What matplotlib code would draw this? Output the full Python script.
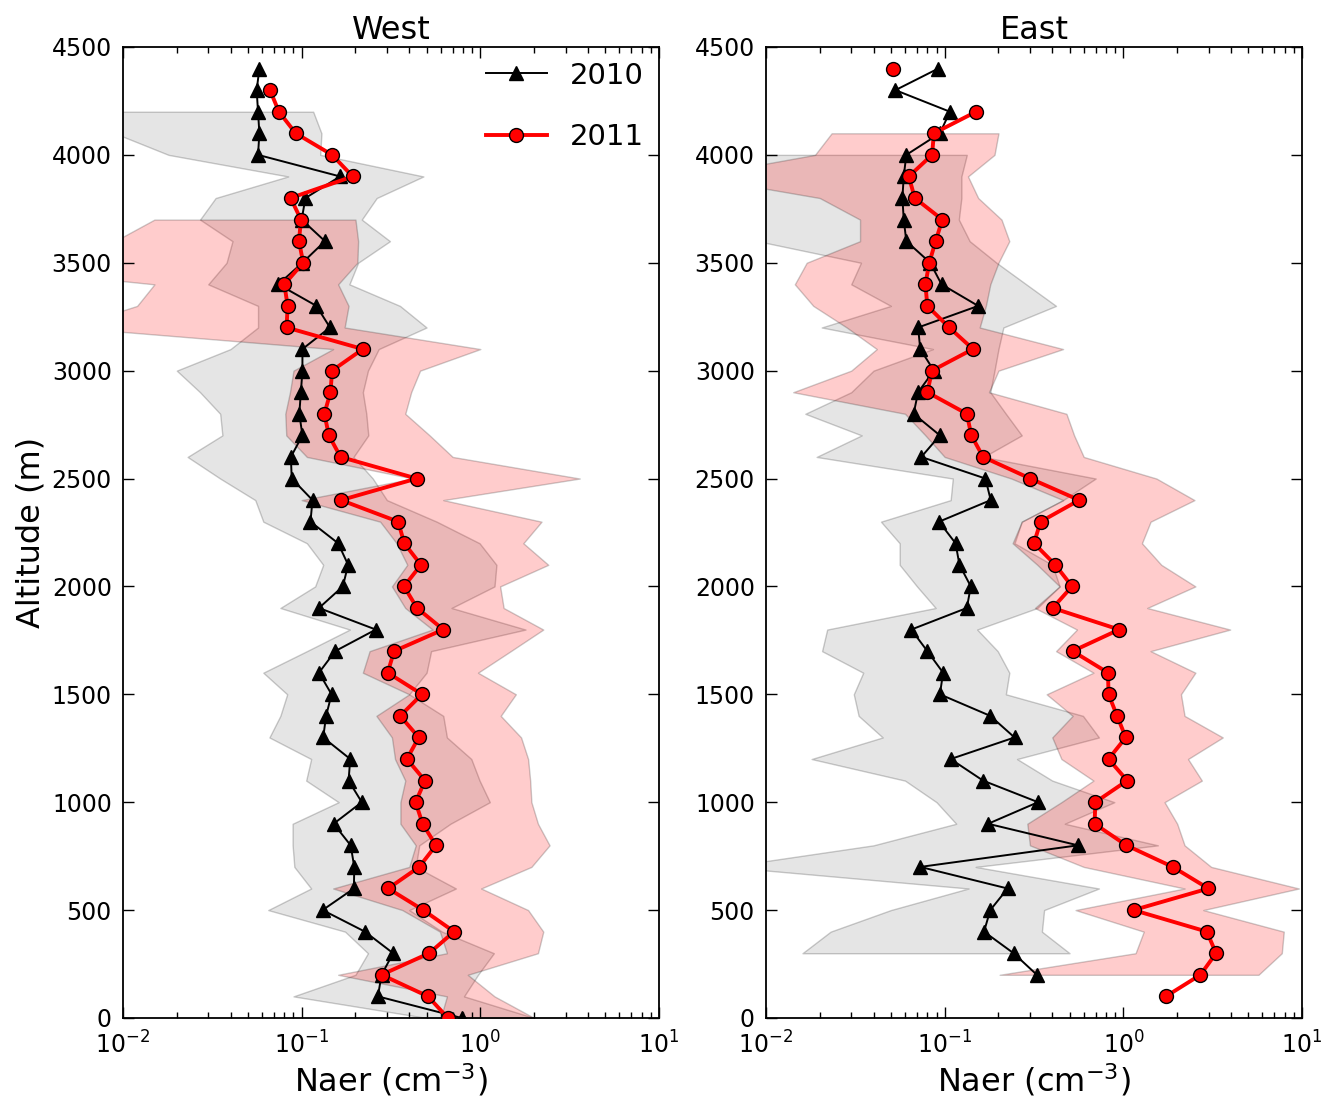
import numpy as np
import matplotlib
matplotlib.use('Agg')
import matplotlib.pyplot as plt

# altitude grid (m), top to bottom
alt = np.arange(4400, -100, -100)

# mean Naer profiles (cm-3), 4400 m down to 0 m
west_2010 = [0.058, 0.056, 0.057, 0.058, 0.057, 0.164, 0.105, 0.100, 0.135, 0.101,
             0.074, 0.121, 0.144, 0.101, 0.101, 0.099, 0.097, 0.101, 0.087, 0.088,
             0.115, 0.112, 0.160, 0.182, 0.170, 0.125, 0.260, 0.154, 0.125, 0.147,
             0.137, 0.132, 0.187, 0.183, 0.217, 0.151, 0.188, 0.197, 0.196, 0.131,
             0.226, 0.325, 0.280, 0.267, 0.785]
west_2011 = [np.nan, 0.0665, 0.0746, 0.0926, 0.148, 0.193, 0.0868, 0.0991, 0.0966, 0.102,
             0.080, 0.0835, 0.0823, 0.220, 0.148, 0.145, 0.134, 0.142, 0.165, 0.440,
             0.166, 0.347, 0.375, 0.465, 0.374, 0.442, 0.620, 0.329, 0.303, 0.471,
             0.356, 0.452, 0.388, 0.490, 0.434, 0.475, 0.564, 0.455, 0.305, 0.479,
             0.713, 0.517, 0.280, 0.509, 0.658]
east_2010 = [0.092, 0.053, 0.107, 0.094, 0.061, 0.059, 0.058, 0.059, 0.061, 0.083,
             0.096, 0.154, 0.071, 0.073, 0.087, 0.071, 0.067, 0.094, 0.074, 0.169,
             0.181, 0.093, 0.115, 0.121, 0.140, 0.133, 0.065, 0.080, 0.098, 0.094,
             0.180, 0.246, 0.108, 0.164, 0.333, 0.175, 0.557, 0.073, 0.225, 0.180,
             0.166, 0.243, 0.328, np.nan, np.nan]
east_2011 = [0.0516, np.nan, 0.150, 0.087, 0.085, 0.063, 0.068, 0.097, 0.089, 0.082,
             0.078, 0.080, 0.106, 0.144, 0.085, 0.080, 0.133, 0.141, 0.164, 0.301,
             0.566, 0.344, 0.316, 0.416, 0.516, 0.402, 0.947, 0.520, 0.820, 0.826,
             0.922, 1.031, 0.826, 1.050, 0.697, 0.690, 1.040, 1.890, 2.990, 1.140,
             2.930, 3.300, 2.700, 1.730, np.nan]

# spread envelopes (low / high edge)
west_2010_alt = np.arange(4200, -100, -100)
west_2010_lo = [0.005, 0.009, 0.018, 0.084, 0.033, 0.027, 0.041, 0.038, 0.030, 0.057,
                0.057, 0.040, 0.020, 0.027, 0.035, 0.036, 0.023, 0.035, 0.055, 0.061,
                0.107, 0.132, 0.119, 0.076, 0.186, 0.107, 0.061, 0.083, 0.076, 0.066,
                0.113, 0.106, 0.161, 0.089, 0.089, 0.091, 0.113, 0.065, 0.175, 0.235,
                0.200, 0.090, 0.500]
west_2010_hi = [0.116, 0.129, 0.127, 0.480, 0.263, 0.217, 0.312, 0.207, 0.185, 0.355,
                0.500, 0.270, 0.235, 0.220, 0.230, 0.236, 0.195, 0.250, 0.300, 0.570,
                0.990, 1.230, 1.200, 0.690, 1.790, 0.530, 0.500, 0.400, 0.620, 0.650,
                0.890, 0.990, 1.130, 0.680, 0.455, 0.435, 0.730, 0.400, 0.610, 1.190,
                0.970, 0.810, 2.000]

west_2011_alt = np.arange(3700, -100, -100)
west_2011_lo = [0.015, 0.009, 0.001, 0.015, 0.012, 0.005, 0.150, 0.090, 0.086, 0.081,
                0.082, 0.107, 0.420, 0.100, 0.275, 0.340, 0.390, 0.320, 0.380, 0.540,
                0.240, 0.220, 0.400, 0.262, 0.320, 0.333, 0.380, 0.357, 0.357, 0.435,
                0.400, 0.150, 0.366, 0.594, 0.650, 0.160, 0.650, 0.600]
west_2011_hi = [0.200, 0.207, 0.205, 0.160, 0.183, 0.174, 1.000, 0.460, 0.410, 0.380,
                0.520, 0.700, 3.600, 0.620, 2.200, 1.740, 2.400, 1.290, 1.350, 2.250,
                1.480, 0.970, 1.580, 1.300, 1.690, 1.850, 1.900, 1.930, 2.100, 2.440,
                1.930, 1.010, 1.850, 2.250, 2.100, 0.850, 1.200, 2.000]

east_2010_alt = np.arange(4000, 200, -100)
east_2010_lo = [0.004, 0.006, 0.005, 0.005, 0.009, 0.034, 0.030, 0.050, 0.0205, 0.086,
                0.040, 0.030, 0.0166, 0.0343, 0.0192, 0.111, 0.108, 0.044, 0.056, 0.056,
                0.070, 0.089, 0.022, 0.0206, 0.035, 0.031, 0.033, 0.045, 0.018, 0.060,
                0.090, 0.116, 0.040, 0.006, 0.136, 0.050, 0.023, 0.016]
east_2010_hi = [0.133, 0.124, 0.124, 0.120, 0.138, 0.195, 0.286, 0.420, 0.213, 0.200,
                0.190, 0.180, 0.220, 0.270, 0.165, 0.700, 0.460, 0.270, 0.246, 0.400,
                0.440, 0.330, 0.152, 0.198, 0.230, 0.220, 0.594, 0.730, 0.254, 0.400,
                0.890, 0.470, 1.560, 0.149, 0.730, 0.360, 0.350, 0.500]

east_2011_alt = np.arange(4100, 100, -100)
east_2011_lo = [0.0233, 0.0188, 0.004, 0.020, 0.0336, 0.0336, 0.0169, 0.0145, 0.0184, 0.0283,
                0.0417, 0.030, 0.0142, 0.060, 0.078, 0.100, 0.236, 0.460, 0.270, 0.240,
                0.330, 0.440, 0.320, 0.550, 0.420, 0.680, 0.372, 0.520, 0.400, 0.450,
                0.680, 0.450, 0.290, 0.300, 0.600, 2.200, 0.540, 1.300, 1.170, 0.203]
east_2011_hi = [0.200, 0.190, 0.135, 0.154, 0.208, 0.230, 0.200, 0.180, 0.170, 0.157,
                0.460, 0.200, 0.177, 0.480, 0.530, 0.600, 1.530, 2.500, 1.420, 1.270,
                1.630, 2.530, 1.360, 3.960, 1.420, 2.530, 2.100, 2.200, 3.600, 2.300,
                2.750, 1.700, 2.000, 2.200, 3.100, 9.600, 2.800, 7.900, 7.700, 5.700]


def draw_panel(ax, title, m10, m11, band10, band11):
    a10, lo10, hi10 = band10
    a11, lo11, hi11 = band11
    ax.fill_betweenx(a10, lo10, hi10, facecolor='gray', edgecolor='k',
                     alpha=0.2, linewidth=1, zorder=1)
    ax.fill_betweenx(a11, lo11, hi11, facecolor='red', edgecolor='k',
                     alpha=0.2, linewidth=1, zorder=1)
    ax.plot(m10, alt, color='k', lw=1.4, marker='^', ms=10.5, mfc='k', mec='k',
            label='2010', zorder=3)
    ax.plot(m11, alt, color='r', lw=2.8, marker='o', ms=10, mfc='r', mec='k',
            mew=1, label='2011', zorder=4)
    ax.set_xscale('log')
    ax.set_xlim(1e-2, 1e1)
    ax.set_ylim(0, 4500)
    ax.set_yticks(np.arange(0, 4501, 500))
    ax.set_title(title, fontsize=23, pad=6)
    ax.set_xlabel(r'Naer (cm$^{-3}$)', fontsize=23, labelpad=2)
    ax.tick_params(which='both', direction='in', top=True, right=True,
                   labelsize=17)
    ax.tick_params(axis='x', which='major', pad=10)
    ax.tick_params(axis='y', which='major', pad=8)
    ax.tick_params(which='major', length=8, width=1)
    ax.tick_params(which='minor', length=4, width=1)
    for s in ax.spines.values():
        s.set_linewidth(1.3)


fig = plt.figure(figsize=(13.25, 11.03), dpi=100)
ax_w = fig.add_axes([0.0928, 0.0771, 0.4046, 0.8803])
ax_e = fig.add_axes([0.5781, 0.0771, 0.4046, 0.8803])

draw_panel(ax_w, 'West', west_2010, west_2011,
           (west_2010_alt, west_2010_lo, west_2010_hi),
           (west_2011_alt, west_2011_lo, west_2011_hi))
draw_panel(ax_e, 'East', east_2010, east_2011,
           (east_2010_alt, east_2010_lo, east_2010_hi),
           (east_2011_alt, east_2011_lo, east_2011_hi))

ax_w.set_ylabel('Altitude (m)', fontsize=23)
ax_w.legend(loc='upper right', frameon=False, fontsize=21, numpoints=1,
            handlelength=2.1, labelspacing=1.15, borderaxespad=0.1)

fig.savefig('out.png', dpi=100, facecolor='white')
